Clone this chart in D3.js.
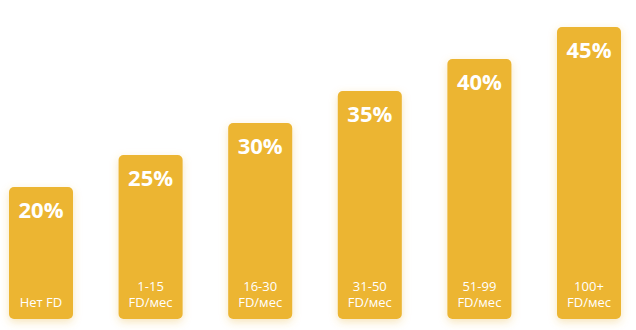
<!DOCTYPE html>
<html>
<head>
<meta charset="utf-8">
<script src="https://cdn.jsdelivr.net/npm/d3@7"></script>
<style>
    body { margin: 0; background: #fff; }
    svg { display: block; }
</style>
</head>
<body>
<svg id="chart"></svg>
<script>
// категории и значения
const categories = ["Нет FD", "1-15 FD/мес", "16-30 FD/мес", "31-50 FD/мес", "51-99 FD/мес", "100+ FD/мес"];
const labelLines = [["Нет FD"], ["1-15", "FD/мес"], ["16-30", "FD/мес"], ["31-50", "FD/мес"], ["51-99", "FD/мес"], ["100+", "FD/мес"]];
const values = [20, 25, 30, 35, 40, 45];

const width = 636;
const height = 330;
const bottom = 319;

let svg = d3.select("#chart").attr("width", width).attr("height", height);

let defs = svg.append("defs");
let filter = defs.append("filter").attr("id", "glow")
    .attr("x", "-30%").attr("y", "-20%").attr("width", "160%").attr("height", "140%");
filter.append("feDropShadow")
    .attr("dx", 0).attr("dy", 3).attr("stdDeviation", 4)
    .attr("flood-color", "#e8b53a").attr("flood-opacity", 0.35);

let scaleX = d3.scaleBand()
    .domain(categories)
    .range([9, 621])
    .paddingInner(0.416)
    .paddingOuter(0);

let scaleY = d3.scaleLinear()
    .domain([0, 45])
    .range([315, 27]);

const bw = scaleX.bandwidth();

let g = svg.selectAll(".bar")
    .data(categories)
    .join("g")
    .attr("class", "bar")
    .attr("transform", d => "translate(" + scaleX(d) + ",0)");

g.append("rect")
    .attr("x", 0)
    .attr("y", (d, i) => scaleY(values[i]))
    .attr("width", bw)
    .attr("height", (d, i) => bottom - scaleY(values[i]))
    .attr("rx", 5)
    .attr("fill", "#ecb531")
    .attr("filter", "url(#glow)");

g.append("text")
    .attr("x", bw / 2)
    .attr("y", (d, i) => scaleY(values[i]) + 31)
    .attr("text-anchor", "middle")
    .attr("font-family", "'Open Sans', sans-serif")
    .attr("font-weight", "bold")
    .attr("font-size", 22)
    .attr("fill", "#fff")
    .text((d, i) => values[i] + "%");

g.each(function(d, i) {
    let lines = labelLines[i];
    let t = d3.select(this).append("text")
        .attr("text-anchor", "middle")
        .attr("font-family", "'Open Sans', sans-serif")
        .attr("font-size", 13)
        .attr("fill", "#fff");
    lines.forEach((line, j) => {
        t.append("tspan")
            .attr("x", bw / 2)
            .attr("y", 307 - (lines.length - 1 - j) * 16)
            .text(line);
    });
});
</script>
</body>
</html>
